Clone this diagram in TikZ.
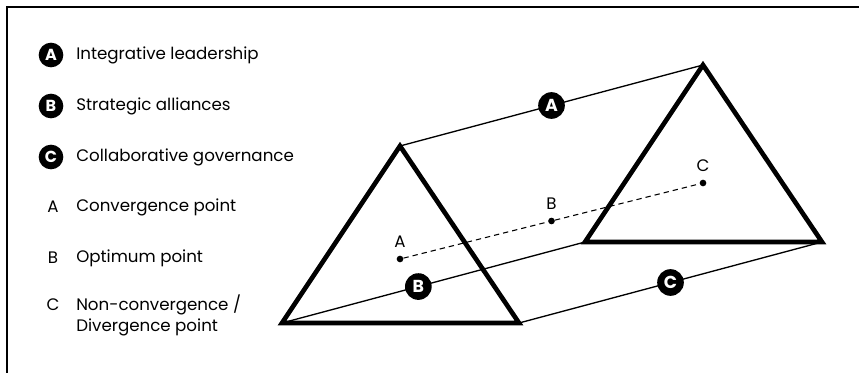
\documentclass[tikz,border=0pt]{standalone}
\usepackage{fontspec}
\setmainfont{Poppins}
\usetikzlibrary{positioning,calc}

\begin{document}
\begin{tikzpicture}[
x=0.75pt, y=-0.75pt,
badge/.style={
circle,
fill=black,
text=white,
inner sep=0pt,
minimum size=18.5pt,
font=\bfseries\fontsize{12}{13}\selectfont
},
bigbadge/.style={
badge,
minimum size=20pt,
font=\bfseries\fontsize{13}{14}\selectfont
},
legtext/.style={
anchor=west,
inner sep=0pt,
align=left,
font=\fontsize{12.5}{15.5}\selectfont
},
ptlabel/.style={
inner sep=0pt,
font=\fontsize{12.5}{14}\selectfont
},
dot/.style={
circle,
fill=black,
inner sep=0pt,
minimum size=5pt
},
thinline/.style={line width=1pt},
tri/.style={line width=3.5pt, line join=miter}
]

\useasboundingbox (0,0) rectangle (859,373);
\draw[line width=1.1pt] (7,373) -- (7,7) -- (859,7);

\node[badge] (legA) at (51,55) {A};
\node[legtext] (legAtxt) at (76,55) {Integrative leadership};
\node[badge] (legB) at (51,106) {B};
\node[legtext] (legBtxt) at (76,106) {Strategic alliances};
\node[badge] (legC) at (51,157) {C};
\node[legtext] (legCtxt) at (76,157) {Collaborative governance};

\node[ptlabel] (keyA) at (53,207) {A};
\node[legtext] (keyAtxt) at (76,207) {Convergence point};
\node[ptlabel] (keyB) at (53,258) {B};
\node[legtext] (keyBtxt) at (76,258) {Optimum point};
\node[ptlabel] (keyC) at (53,305) {C};
\node[legtext] (keyCtxt) at (76,315.5) {Non-convergence /\\Divergence point};

\coordinate (lapex) at (400,146);
\coordinate (lbl) at (282,323);
\coordinate (lbr) at (519,323);
\coordinate (rapex) at ($(lapex)+(303,-81)$);
\coordinate (rbl) at ($(lbl)+(303,-81)$);
\coordinate (rbr) at ($(lbr)+(303,-81)$);

\draw[thinline] (lapex) -- node[bigbadge] {A} (rapex);
\draw[thinline] (lbl) -- node[bigbadge, pos=0.45] {B} (rbl);
\draw[thinline] (lbr) -- node[bigbadge] {C} (rbr);

\node[dot] (dotA) at (400,259) {};
\node[dot] (dotB) at ($(dotA)!0.5!(703,183)$) {};
\node[dot] (dotC) at (703,183) {};
\node[ptlabel, above=6pt of dotA] (labA) {A};
\node[ptlabel, above=6pt of dotB] (labB) {B};
\node[ptlabel, above=6pt of dotC] (labC) {C};

\draw[line width=0.8pt, dash pattern=on 4pt off 3pt] (dotA) -- (dotB) -- (dotC);

\draw[tri] (lapex) -- (lbl) -- (lbr) -- cycle;
\draw[tri] (rapex) -- (rbl) -- (rbr) -- cycle;

\end{tikzpicture}
\end{document}
